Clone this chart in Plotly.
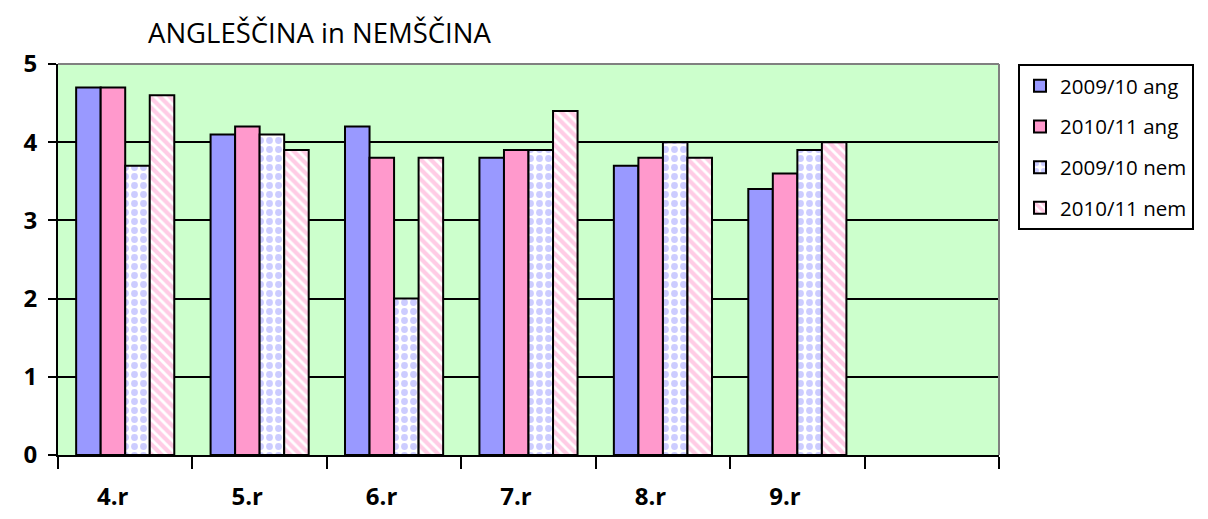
import plotly.graph_objects as go

NB = "\u00a0" * 4
categories = ["4.r" + NB, "5.r" + NB, "6.r" + NB, "7.r" + NB, "8.r" + NB, "9.r" + NB, " "]
ang_0910 = [4.7, 4.1, 4.2, 3.8, 3.7, 3.4, None]
ang_1011 = [4.7, 4.2, 3.8, 3.9, 3.8, 3.6, None]
nem_0910 = [3.7, 4.1, 2.0, 3.9, 4.0, 3.9, None]
nem_1011 = [4.6, 3.9, 3.8, 4.4, 3.8, 4.0, None]
y_ticks = [0, 1, 2, 3, 4, 5]

FONT = "Open Sans"
BLUE = "#9999FF"
PINK = "#FF99CC"
OFF = 8  # page body margin offset

fig = go.Figure()
fig.add_bar(name="2009/10 ang", x=categories, y=ang_0910, legendgroup="a",
            marker=dict(color=BLUE, line=dict(color="black", width=2)))
fig.add_bar(name="2010/11 ang", x=categories, y=ang_1011, legendgroup="b",
            marker=dict(color=PINK, line=dict(color="black", width=2)))
fig.add_bar(name="2009/10 nem", x=categories, y=nem_0910, legendgroup="c",
            marker=dict(color="white", line=dict(color="black", width=2),
                        pattern=dict(shape=".", fgcolor=BLUE, bgcolor="white",
                                     size=9, solidity=0.45, fillmode="overlay")))
fig.add_bar(name="2010/11 nem", x=categories, y=nem_1011, legendgroup="d",
            marker=dict(color="white", line=dict(color="black", width=2),
                        pattern=dict(shape="\\", fgcolor=PINK, bgcolor="white",
                                     size=7, solidity=0.6, fillmode="overlay")))

fig.update_layout(
    width=1208, height=519,
    margin=dict(l=58 - OFF, r=209 + OFF, t=64 - OFF, b=64 + OFF, autoexpand=False),
    paper_bgcolor="white",
    plot_bgcolor="#CCFFCC",
    barmode="group",
    bargap=0.27,
    bargroupgap=0,
    font=dict(family=FONT, color="black"),
    title=dict(text="ANGLEŠČINA in NEMŠČINA", x=(148 - OFF) / 1208, xanchor="left",
               xref="container", y=1 - (33 - OFF) / 519, yanchor="middle",
               yref="container",
               font=dict(family=FONT, size=27.5, color="black")),
    legend=dict(x=(1018 - 58) / 941, xanchor="left",
                y=(455 - 64) / 391, yanchor="top",
                bordercolor="black", borderwidth=2, bgcolor="white",
                font=dict(family=FONT, size=20.5, color="black"),
                traceorder="grouped", tracegroupgap=11, itemwidth=30),
    showlegend=True,
)

fig.update_xaxes(
    type="category", tickson="boundaries", ticks="outside", ticklen=12,
    tickcolor="black", tickwidth=2, showline=True, linecolor="black", linewidth=2,
    showgrid=False, ticklabelstandoff=19,
    tickfont=dict(family=FONT, size=24, color="black", weight="bold"),
    range=[-0.5, 6.5],
)
fig.update_yaxes(
    range=[0, 5], tickvals=y_ticks, ticks="outside", ticklen=8,
    tickcolor="black", tickwidth=2, showline=True, linecolor="black", linewidth=2,
    showgrid=True, gridcolor="black", gridwidth=2, zeroline=False,
    tickfont=dict(family=FONT, size=24, color="black", weight="bold"),
    ticklabelstandoff=6,
)

# gray plot-area border on top and right
fig.add_shape(type="line", xref="paper", yref="paper", x0=0, x1=1, y0=1, y1=1,
              line=dict(color="#808080", width=2), layer="above")
fig.add_shape(type="line", xref="paper", yref="paper", x0=1, x1=1, y0=0, y1=1,
              line=dict(color="#808080", width=2), layer="above")

fig.write_html("out.html")
